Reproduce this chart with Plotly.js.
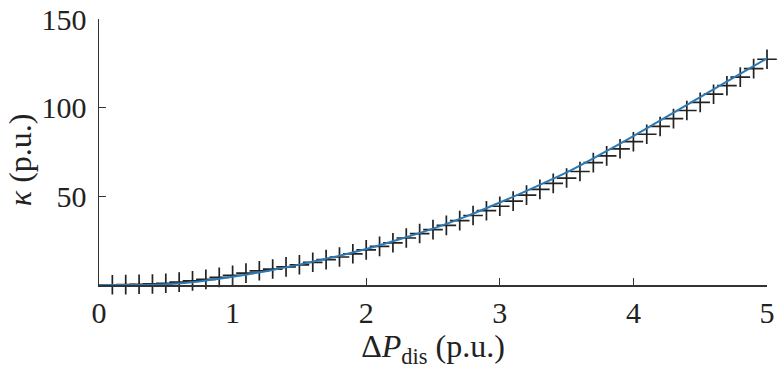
<!DOCTYPE html>
<html>
<head>
<meta charset="utf-8">
<script src="https://cdn.plot.ly/plotly-3.0.1.min.js"></script>
<style>html,body{margin:0;padding:0;background:#fff;}#chart{width:777px;height:375px;}</style>
</head>
<body>
<div id="chart"></div>
<script>
// Sampled points (+ markers)
var sampleX = [0.1,0.2,0.3,0.4,0.5,0.6,0.7,0.8,0.9,1.0,
               1.1,1.2,1.3,1.4,1.5,1.6,1.7,1.8,1.9,2.0,
               2.1,2.2,2.3,2.4,2.5,2.6,2.7,2.8,2.9,3.0,
               3.1,3.2,3.3,3.4,3.5,3.6,3.7,3.8,3.9,4.0,
               4.1,4.2,4.3,4.4,4.5,4.6,4.7,4.8,4.9,5.0];
var sampleY = [0.1,0.2,0.4,0.6,1.0,1.6,2.3,3.2,4.3,5.5,
               6.7,8.0,9.0,10.2,11.4,12.8,14.3,15.8,17.6,19.8,
               21.8,23.8,26.5,29.0,31.2,33.6,36.3,39.2,41.9,44.4,
               47.3,50.7,53.9,57.3,60.3,64.0,69.0,72.8,76.8,80.8,
               85.0,89.4,93.8,98.4,103.0,107.6,112.4,117.2,122.0,127.3];
// Fitted curve (blue line)
var fitX = [0,0.25,0.5,0.75,1.0,1.25,1.5,1.75,2.0,2.25,2.5,2.75,3.0,3.25,3.5,3.75,4.0,4.25,4.5,4.75,5.0];
var fitY = [0,0,0.4,2.0,4.6,7.8,11.5,15.6,20.3,25.8,31.8,38.7,46.5,54.8,63.5,73.5,84.0,95.0,106.0,117.0,127.8];

var xTicks = [0,1,2,3,4,5];
var yTicks = [50,100,150];
var xTitle = 'Δ<i>P</i><sub>dis</sub> (p.u.)';
var yTitle = '<i>κ</i> (p.u.)';

var traces = [
  {x: sampleX, y: sampleY, type: 'scatter', mode: 'markers', cliponaxis: false,
   marker: {symbol: 'cross-thin-open', size: 14, line: {color: '#222222', width: 1.7}, color: '#222222'},
   hoverinfo: 'none'},
  {x: fitX, y: fitY, type: 'scatter', mode: 'lines', line: {color: '#2b79b5', width: 2, shape: 'spline'},
   hoverinfo: 'none'}
];

var font = {family: 'Liberation Serif, Times New Roman, serif', size: 30, color: '#222222'};
var titleFont = {family: 'Liberation Serif, Times New Roman, serif', size: 32, color: '#222222'};

var layout = {
  width: 777, height: 375,
  margin: {l: 99, r: 10, t: 19, b: 90},
  showlegend: false,
  paper_bgcolor: '#ffffff', plot_bgcolor: '#ffffff',
  font: font,
  xaxis: {
    range: [0, 5], tickvals: xTicks, ticktext: xTicks.map(String),
    showgrid: false, zeroline: false, showline: true, linecolor: '#333333', linewidth: 1.5,
    ticks: 'inside', ticklen: 7, tickwidth: 1.3, tickcolor: '#333333',
    tickfont: font,
    title: {text: xTitle, font: titleFont, standoff: 6}
  },
  yaxis: {
    range: [0, 150], tickvals: yTicks, ticktext: yTicks.map(String),
    showgrid: false, zeroline: false, showline: true, linecolor: '#333333', linewidth: 1.5,
    ticks: 'inside', ticklen: 7, tickwidth: 1.3, tickcolor: '#333333',
    ticklabelstandoff: 5,
    tickfont: font
  },
  annotations: [{
    text: yTitle, xref: 'paper', yref: 'paper', x: -0.118, y: 0.47,
    xanchor: 'center', yanchor: 'middle', textangle: -90, showarrow: false,
    font: titleFont
  }]
};

Plotly.newPlot('chart', traces, layout, {displayModeBar: false, staticPlot: true});
</script>
</body>
</html>
